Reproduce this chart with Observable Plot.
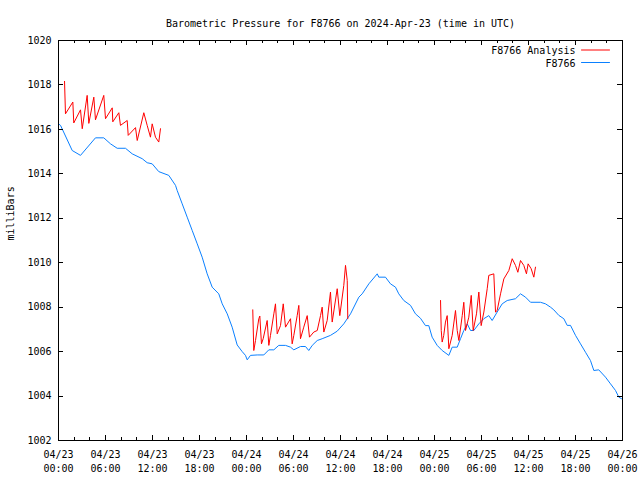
<!DOCTYPE html>
<html><head><meta charset="utf-8">
<script src="https://cdn.jsdelivr.net/npm/d3@7"></script>
<script src="https://cdn.jsdelivr.net/npm/@observablehq/plot@0.6"></script>
<style>html,body{margin:0;padding:0;background:#fff}</style>
</head><body><div id="chart"></div>
<script>
// Hours since 2024-04-23 00:00 UTC, pressure in mbar
const stationHours = [0.0,0.26,1.75,2.81,4.72,5.78,6.64,7.49,8.55,9.41,10.69,11.32,11.96,12.80,14.08,14.94,15.15,15.79,16.43,17.07,17.71,18.34,18.98,19.62,20.46,20.90,21.54,22.17,22.81,23.45,23.87,24.09,24.51,25.37,26.21,26.85,27.49,28.12,28.98,29.62,30.04,30.89,31.53,31.95,32.39,33.03,33.66,34.72,35.58,36.42,37.28,38.34,38.77,39.62,40.69,40.89,41.74,42.38,43.02,43.44,44.08,44.94,45.57,46.21,46.85,47.27,47.70,48.34,48.98,49.83,50.26,50.90,51.32,51.74,52.18,52.60,53.02,53.66,54.29,54.93,55.36,56.00,56.64,57.28,58.34,58.98,59.62,60.26,61.53,62.17,62.81,63.23,63.87,64.51,64.94,65.36,66.00,66.64,67.28,67.91,68.34,68.97,69.83,70.47,71.11,71.53,71.87];
const stationP = [1016.25,1016.18,1015.05,1014.83,1015.62,1015.62,1015.35,1015.15,1015.15,1014.9,1014.68,1014.5,1014.45,1014.1,1013.93,1013.48,1013.25,1012.65,1012.05,1011.45,1010.85,1010.25,1009.5,1008.9,1008.6,1008.15,1007.7,1007.1,1006.3,1006.0,1005.83,1005.63,1005.83,1005.85,1005.85,1006.08,1006.08,1006.28,1006.28,1006.2,1006.08,1006.23,1006.23,1006.05,1006.28,1006.5,1006.58,1006.73,1006.92,1007.25,1007.7,1008.45,1008.6,1009.05,1009.5,1009.35,1009.35,1009.05,1008.9,1008.6,1008.3,1008.08,1007.7,1007.5,1007.17,1007.17,1006.65,1006.28,1006.05,1005.83,1006.2,1006.2,1006.58,1006.95,1007.25,1006.95,1006.95,1007.25,1007.48,1007.62,1007.4,1007.78,1008.15,1008.3,1008.38,1008.6,1008.45,1008.22,1008.22,1008.15,1008.0,1007.88,1007.63,1007.48,1007.18,1007.18,1006.73,1006.35,1005.97,1005.6,1005.15,1005.18,1004.85,1004.55,1004.25,1003.95,1003.88];

const analysisHours1 = [0.77,0.89,1.83,1.95,2.81,3.03,3.66,3.87,4.51,4.72,5.78,6.00,6.86,6.93,7.70,7.91,8.77,8.90,9.83,10.05,10.89,11.32,11.74,11.96,12.38,12.80,13.02];
const analysisP1 = [1018.16,1016.7,1017.23,1016.29,1016.88,1016.03,1017.53,1016.27,1017.45,1016.43,1017.53,1016.48,1016.97,1016.34,1016.75,1016.18,1016.4,1015.73,1016.08,1015.5,1016.75,1016.18,1015.65,1016.25,1015.65,1015.43,1016.03];
const analysisHours2 = [24.80,24.93,25.15,25.57,25.70,25.91,26.13,26.64,26.85,27.06,27.49,27.70,27.92,28.34,28.69,28.98,29.62,29.83,30.04,30.47,30.68,30.89,31.31,31.75,32.04,32.59,33.03,33.45,33.66,33.87,34.30,34.72,34.94,35.58,35.91,36.42,36.64,36.86,36.93];
const analysisP2 = [1007.88,1006.05,1006.5,1007.48,1007.6,1006.35,1006.58,1007.4,1006.28,1006.73,1007.7,1008.15,1006.8,1007.17,1008.15,1007.1,1007.48,1006.35,1006.73,1007.62,1008.08,1006.58,1007.1,1007.62,1006.65,1006.88,1006.95,1007.62,1008.0,1006.88,1007.4,1008.68,1007.33,1008.83,1007.62,1008.98,1009.88,1009.2,1007.48];
const analysisHours3 = [48.77,48.86,48.98,49.18,49.40,49.62,49.83,50.26,50.68,50.90,51.11,51.54,51.74,51.96,52.38,52.69,52.94,53.36,53.66,53.96,54.30,54.73,54.93,55.57,55.79,56.00,56.43,56.85,57.49,57.92,58.34,58.64,58.98,59.40,59.74,59.95,60.34,60.68,60.89];
const analysisP3 = [1008.3,1006.95,1006.43,1006.73,1007.33,1007.62,1006.13,1006.73,1007.85,1006.95,1006.5,1007.62,1008.22,1006.95,1007.55,1008.53,1006.95,1007.7,1008.68,1007.17,1007.78,1008.83,1009.43,1009.5,1007.78,1007.85,1008.6,1009.27,1009.65,1010.18,1009.88,1009.57,1010.1,1009.88,1009.5,1009.95,1009.73,1009.35,1009.8];

const majorTickHours = [0,6,12,18,24,30,36,42,48,54,60,66,72];
const minorTickHours = [2,4,8,10,14,16,20,22,26,28,32,34,38,40,44,46,50,52,56,58,62,64,68,70];
const yTickValues = [1002,1004,1006,1008,1010,1012,1014,1016,1018,1020];
const seriesNames = ["F8766 Analysis", "F8766"];
const seriesColors = ["#ff0000", "#0a80ff"];
const titleText = "Barometric Pressure for F8766 on 2024-Apr-23 (time in UTC)";
const yLabelText = "milliBars";

const startUTC = Date.UTC(2024, 3, 23);
const toDate = h => new Date(startUTC + h * 3600e3);

const station = stationHours.map((h, i) => ({t: toDate(h), p: stationP[i]}));
const analysis = [[analysisHours1, analysisP1], [analysisHours2, analysisP2], [analysisHours3, analysisP3]]
  .flatMap(([hs, ps], s) => hs.map((h, i) => ({t: toDate(h), p: ps[i], seg: s})));

const W = 640, H = 480, mL = 58, mR = 18, mT = 40, mB = 40;
const innerW = W - mL - mR, innerH = H - mT - mB;
const majorLen = 5, minorLen = 3;
const fmtD = d3.utcFormat("%m/%d"), fmtT = d3.utcFormat("%H:%M");
const lineShape = {draw(ctx, l) { ctx.moveTo(0, 0); ctx.lineTo(0, -l); }};
const crisp = {shapeRendering: "crispEdges"};

const chart = Plot.plot({
  width: W, height: H,
  marginLeft: mL, marginRight: mR, marginTop: mT, marginBottom: mB,
  style: {fontFamily: "'DejaVu Sans Mono', monospace", fontSize: "10px", background: "#fff", color: "#000"},
  x: {type: "utc", domain: [toDate(0), toDate(72)], label: null},
  y: {domain: [1002, 1020], label: null},
  marks: [
    Plot.line(station, {x: "t", y: "p", stroke: seriesColors[1], strokeWidth: 1}),
    Plot.line(analysis, {x: "t", y: "p", z: "seg", stroke: seriesColors[0], strokeWidth: 1}),
    // inward ticks on all sides
    Plot.ruleX(majorTickHours.map(toDate), {x: d => d, insetTop: innerH - majorLen, stroke: "#000", ...crisp}),
    Plot.ruleX(majorTickHours.map(toDate), {x: d => d, insetBottom: innerH - majorLen, stroke: "#000", ...crisp}),
    Plot.ruleX(minorTickHours.map(toDate), {x: d => d, insetTop: innerH - minorLen, stroke: "#000", ...crisp}),
    Plot.ruleX(minorTickHours.map(toDate), {x: d => d, insetBottom: innerH - minorLen, stroke: "#000", ...crisp}),
    Plot.ruleY(yTickValues, {y: d => d, insetRight: innerW - majorLen, stroke: "#000", ...crisp}),
    Plot.ruleY(yTickValues, {y: d => d, insetLeft: innerW - majorLen, stroke: "#000", ...crisp}),
    Plot.frame({stroke: "#000", ...crisp}),
    Plot.axisX(majorTickHours.map(toDate), {tickSize: 0, tickPadding: 8, tickFormat: d => fmtD(d) + "\n" + fmtT(d), lineHeight: 1.4, fontSize: 10, label: null}),
    Plot.axisY(yTickValues, {tickSize: 0, tickPadding: 7, tickFormat: d => String(d), fontSize: 10, label: null}),
    Plot.text([titleText], {text: d => d, frameAnchor: "top", dy: -21, fontSize: 10}),
    Plot.text([yLabelText], {text: d => d, frameAnchor: "left", dx: -48, rotate: -90, fontSize: 10}),
    // legend
    Plot.text([seriesNames[0]], {text: d => d, frameAnchor: "top-right", textAnchor: "end", dx: -47, dy: 6.5, fontSize: 10}),
    Plot.text([seriesNames[1]], {text: d => d, frameAnchor: "top-right", textAnchor: "end", dx: -47, dy: 19.5, fontSize: 10}),
    Plot.vector([seriesColors[0]], {frameAnchor: "top-right", dx: -41, dy: 9.5, length: 28, rotate: 90, anchor: "start", shape: lineShape, stroke: d => d, strokeWidth: 1}),
    Plot.vector([seriesColors[1]], {frameAnchor: "top-right", dx: -41, dy: 22, length: 28, rotate: 90, anchor: "start", shape: lineShape, stroke: d => d, strokeWidth: 1})
  ]
});
document.getElementById("chart").append(chart);
</script>
</body></html>
